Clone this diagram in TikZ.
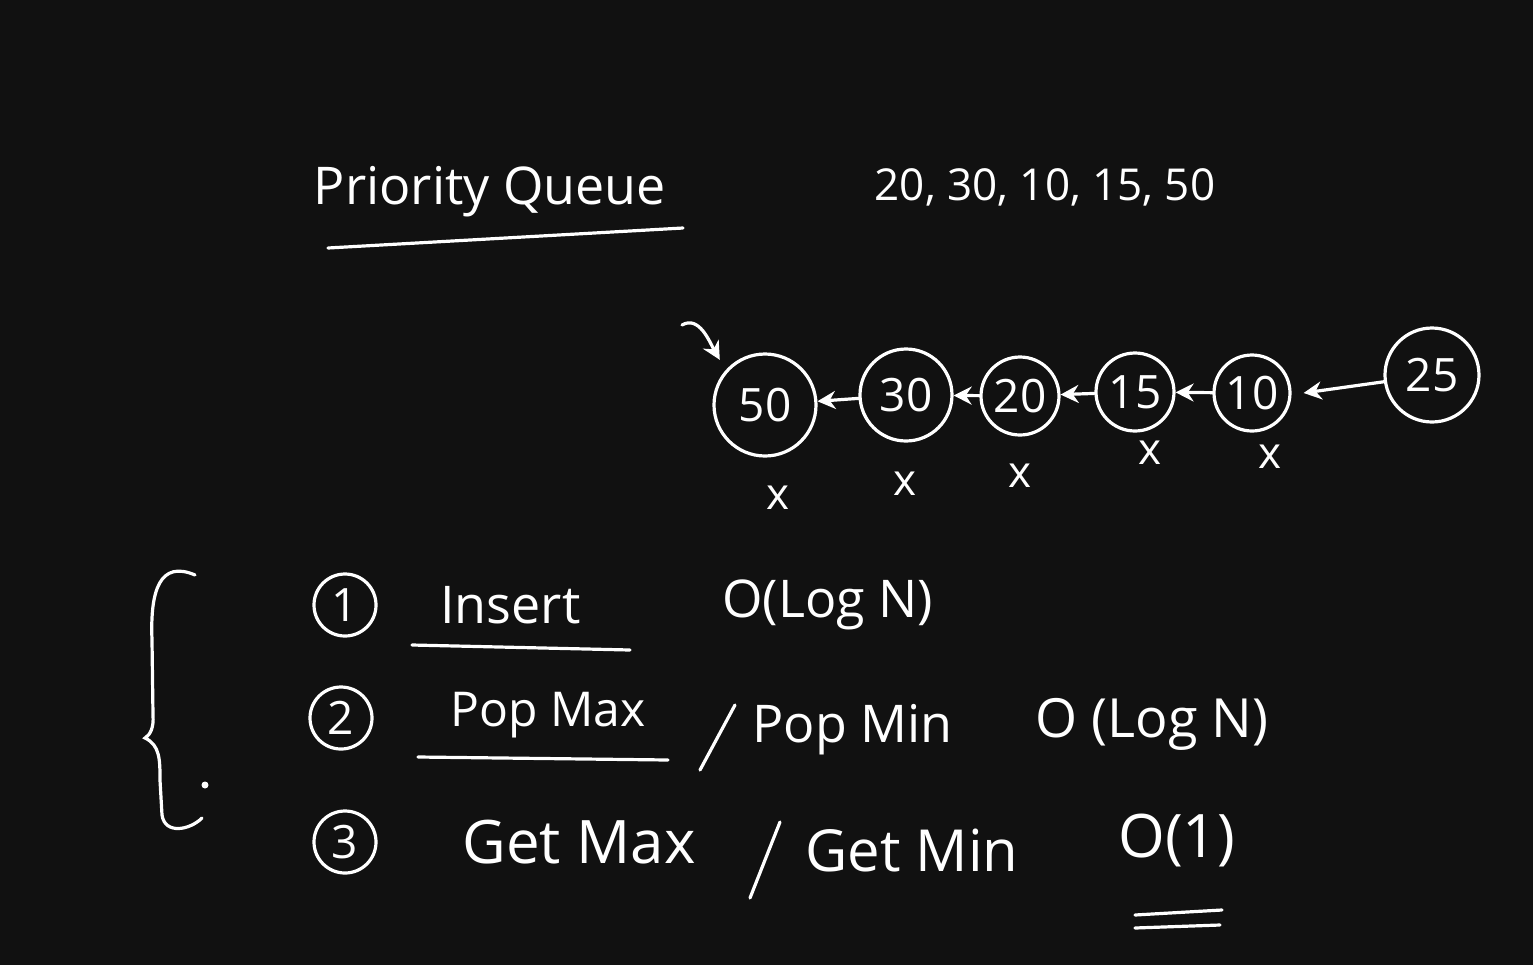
\documentclass[tikz,border=0pt]{standalone}
\usepackage{fontspec}
\setmainfont{Open Sans}
\usetikzlibrary{arrows.meta}

\definecolor{board}{HTML}{111111}

\begin{document}
\begin{tikzpicture}[x=0.5pt,y=-0.5pt,
    chalk/.style={draw=white,line width=1.6pt,line cap=round},
    arr/.style={chalk,-{Stealth[length=9pt,width=9pt]}},
    hand/.style={text=white,inner sep=0pt,font=\fontsize{26}{30}\selectfont},
    val node/.style={circle,draw=white,line width=1.6pt,text=white,inner sep=0pt,
      font=\fontsize{23}{26}\selectfont},
    num node/.style={circle,draw=white,line width=1.6pt,text=white,inner sep=0pt,
      minimum size=31pt,font=\fontsize{23}{26}\selectfont},
    cross/.style={text=white,inner sep=0pt,font=\fontsize{22}{24}\selectfont}]

  \fill[board] (0,0) rectangle (1533,965);
  \useasboundingbox (0,0) rectangle (1533,965);

  % heading
  \node[hand] (title) at (490,192) {Priority Queue};
  \draw[chalk] (328,248) -- (683,228);
  \node[hand,font=\fontsize{22}{26}\selectfont] (input) at (1045,187) {20, 30, 10, 15, 50};

  % the queue
  \node[val node,minimum size=51pt] (n50) at (765,405) {50};
  \node[val node,minimum size=46pt] (n30) at (906,395) {30};
  \node[val node,minimum size=39pt] (n20) at (1020,396) {20};
  \node[val node,minimum size=39pt] (n15) at (1135,392) {15};
  \node[val node,minimum size=38pt] (n10) at (1252,393) {10};
  \node[val node,minimum size=47pt] (n25) at (1432,375) {25};

  \draw[arr] (n30) -- (n50);
  \draw[arr] (n20) -- (n30);
  \draw[arr] (n15) -- (n20);
  \draw[arr] (n10) -- (n15);
  \draw[arr] (n25) -- ([xshift=6pt]n10.east);

  \coordinate (head) at (682,325);
  \draw[arr] (head) to[out=30,in=120] ([xshift=-4pt,yshift=4pt]n50.north west);

  % removed ones
  \node[cross] (x50) at (778,498) {x};
  \node[cross] (x30) at (905,484) {x};
  \node[cross] (x20) at (1020,476) {x};
  \node[cross] (x15) at (1150,453) {x};
  \node[cross] (x10) at (1270,457) {x};

  % operations
  \draw[chalk] (195,575) .. controls (160,560) and (150,590) .. (152,640)
    -- (153,715) .. controls (154,728) and (150,735) .. (145,738)
    .. controls (160,745) and (160,760) .. (160,780)
    -- (162,815) .. controls (165,835) and (190,830) .. (202,818);
  \fill[white] (205,785) circle (3.5);

  \node[num node] (op1) at (345,605) {1};
  \node[num node] (op2) at (341,718) {2};
  \node[num node] (op3) at (345,842) {3};

  \node[hand,anchor=west] (ins) at (440,605) {Insert};
  \draw[chalk] (412,645) -- (630,650);
  \node[hand,anchor=west] (cins) at (722,605) {O(Log N)};

  \node[hand,anchor=west,font=\fontsize{24}{28}\selectfont] (popmax) at (450,715) {Pop Max};
  \draw[chalk] (418,757) -- (668,760);
  \draw[chalk] (700,770) -- (735,705);
  \node[hand,anchor=west] (popmin) at (752,730) {Pop Min};
  \node[hand,anchor=west,font=\fontsize{27}{31}\selectfont] (cpop) at (1035,724) {O (Log N)};

  \node[hand,anchor=west,font=\fontsize{30}{33}\selectfont] (getmax) at (462,842) {Get Max};
  \draw[chalk] (750,898) -- (780,822);
  \node[hand,anchor=west,font=\fontsize{29}{32}\selectfont] (getmin) at (805,850) {Get Min};
  \node[hand,anchor=west,font=\fontsize{30}{34}\selectfont] (cget) at (1118,840) {O(1)};
  \draw[chalk] (1135,915) -- (1222,910);
  \draw[chalk] (1135,928) -- (1220,925);
\end{tikzpicture}
\end{document}
